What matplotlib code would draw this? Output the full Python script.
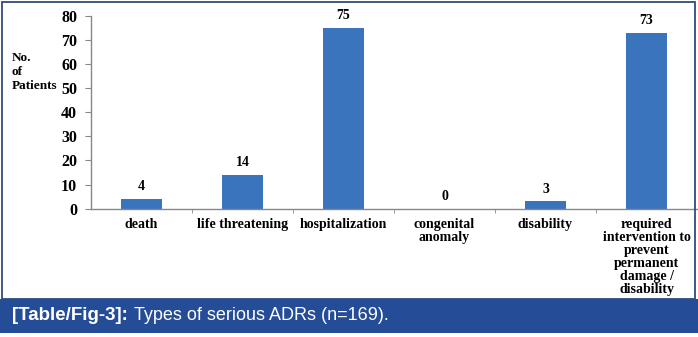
import matplotlib.pyplot as plt
from matplotlib.patches import Rectangle

categories = ["death", "life threatening", "hospitalization", "congenital\nanomaly",
              "disability",
              "required\nintervention to\nprevent\npermanent\ndamage /\ndisability"]
patients = [4, 14, 75, 0, 3, 73]
y_ticks = [0, 10, 20, 30, 40, 50, 60, 70, 80]

serif = "Liberation Serif"
bar_color = "#3a74bd"

fig = plt.figure(figsize=(6.98, 3.37), dpi=100)
fig.patch.set_facecolor("white")

# outer frame and caption strip
fig.patches.append(Rectangle((2 / 698, 1 - 299 / 337), 693 / 698, 297 / 337,
                             transform=fig.transFigure, fill=False,
                             edgecolor="#2d4d7c", linewidth=1.3))
fig.patches.append(Rectangle((0, 1 - 333 / 337), 1, 34 / 337,
                             transform=fig.transFigure, facecolor="#244c97",
                             edgecolor="none"))

ax = fig.add_axes([91 / 698, 1 - 208.7 / 337, 606 / 698, 193 / 337])
x = list(range(len(categories)))
bars = ax.bar(x, patients, width=0.4, color=bar_color)
ax.bar_label(bars, labels=[str(v) for v in patients], padding=4,
             fontsize=10, fontweight="bold", family=serif)

ax.set_xlim(-0.5, len(categories) - 0.5)
ax.set_ylim(0, 80)
ax.set_yticks(y_ticks)
ax.set_yticklabels([str(t) for t in y_ticks], fontsize=11.5,
                   fontweight="bold", family=serif)
ax.set_xticks(x)
ax.set_xticklabels(categories, fontsize=10, fontweight="bold", family=serif,
                   linespacing=1.0, va="top")
ax.set_xticks([i + 0.5 for i in x[:-1]], minor=True)
ax.tick_params(axis="x", which="major", length=0, pad=7)
ax.tick_params(axis="x", which="minor", length=3, color="#888888")
ax.tick_params(axis="y", length=4, color="#888888", pad=6)

for side in ("top", "right"):
    ax.spines[side].set_visible(False)
for side in ("left", "bottom"):
    ax.spines[side].set_color("#888888")
    ax.spines[side].set_linewidth(1.0)

fig.text(12 / 698, 1 - 72 / 337, "No.\nof\nPatients", fontsize=9.5,
         fontweight="bold", family=serif, ha="left", va="center",
         linespacing=1.2)

fig.text(12 / 698, 1 - 316 / 337, "[Table/Fig-3]:", fontsize=13.5,
         fontweight="bold", family="Liberation Sans", color="white",
         ha="left", va="center")
fig.text(134 / 698, 1 - 316 / 337, "Types of serious ADRs (n=169).", fontsize=13,
         family="Liberation Sans", color="white", ha="left", va="center")

fig.savefig("out.png", dpi=100)
